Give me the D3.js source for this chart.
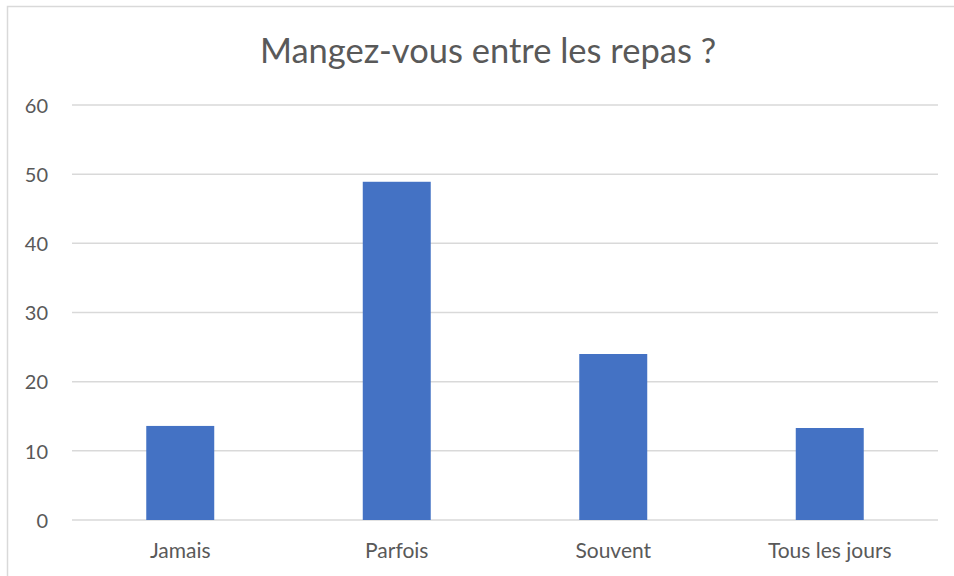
<!DOCTYPE html>
<html><head><meta charset="utf-8">
<script src="https://cdn.jsdelivr.net/npm/d3@7"></script>
<style>html,body{margin:0;padding:0;background:#fff;}svg{display:block;}</style>
</head><body>
<svg id="chart" width="954" height="576"></svg>
<script>
const title = "Mangez-vous entre les repas ?";
const categories = ["Jamais", "Parfois", "Souvent", "Tous les jours"];
const values = [13.6, 48.9, 24.0, 13.3];
const yTicks = [0, 10, 20, 30, 40, 50, 60];

const svg = d3.select("#chart");
const font = "Lato, 'Open Sans', sans-serif";
const textColor = "#595959";
const gridColor = "#d9d9d9";

// outer border
svg.append("rect").attr("x", 7.5).attr("y", 6.5).attr("width", 1000).attr("height", 1000)
  .attr("fill", "none").attr("stroke", gridColor).attr("stroke-width", 1.5);

const x = d3.scaleBand().domain(categories).range([72, 938]).paddingInner(0.686).paddingOuter(0.343);
const y = d3.scaleLinear().domain([0, 60]).range([520, 105]);

// gridlines
svg.append("g").selectAll("line").data(yTicks).join("line")
  .attr("x1", 72).attr("x2", 938)
  .attr("y1", d => y(d)).attr("y2", d => y(d))
  .attr("stroke", gridColor).attr("stroke-width", 1.5);

// y axis labels
const yAxis = d3.axisLeft(y).tickValues(yTicks).tickSize(0).tickPadding(0);
const gy = svg.append("g").attr("transform", "translate(48,0)").call(yAxis);
gy.select(".domain").remove();
gy.selectAll("text").attr("fill", textColor).style("font-family", font).style("font-size", "20px").attr("dy", "0.36em");

// bars
svg.append("g").selectAll("rect").data(values).join("rect")
  .attr("x", (d, i) => x(categories[i]))
  .attr("width", x.bandwidth())
  .attr("y", d => y(d))
  .attr("height", d => y(0) - y(d))
  .attr("fill", "#4472C4");

// x axis labels
const xAxis = d3.axisBottom(x).tickSize(0).tickPadding(0);
const gx = svg.append("g").attr("transform", "translate(0,558)").call(xAxis);
gx.select(".domain").remove();
gx.selectAll("text").attr("fill", textColor).attr("dy", 0).style("font-family", font).style("font-size", "21px");

// title
svg.append("text").attr("x", 488).attr("y", 63).attr("text-anchor", "middle")
  .attr("fill", textColor).style("font-family", font).style("font-size", "34.5px").text(title);
</script>
</body></html>
